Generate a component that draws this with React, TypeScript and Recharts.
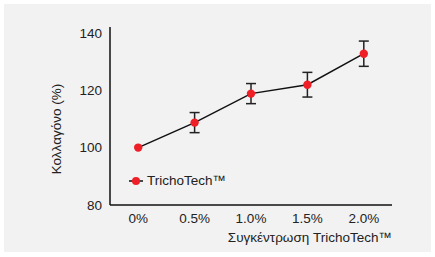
import { ErrorBar, Line, LineChart, XAxis, YAxis } from 'recharts';

const concentrations = ['0%', '0.5%', '1.0%', '1.5%', '2.0%'];
const collagen = [100, 108.7, 118.8, 121.9, 132.7];
const collagenErr = [0, 3.5, 3.5, 4.3, 4.4];
const yTicks = [80, 100, 120, 140];
const seriesName = 'TrichoTech™';

const data = concentrations.map((c, i) => ({ c, value: collagen[i], err: collagenErr[i] }));

const RED = '#ee1f26';
const FONT = '"Liberation Sans", Arial, sans-serif';
const FS = 13.5;

function YLabel({ viewBox }: any) {
  const x = viewBox.x + viewBox.width / 2 - 1;
  const y = viewBox.y + viewBox.height / 2 + 13;
  return (
    <text x={x} y={y} transform={`rotate(-90, ${x}, ${y})`} textAnchor="middle" dominantBaseline="central" fontSize={FS} fill="#222" fontFamily={FONT}>
      Κολλαγόνο (%)
    </text>
  );
}

function XLabel({ viewBox }: any) {
  return (
    <text x={viewBox.x + viewBox.width} y={viewBox.y + 32} textAnchor="end" dominantBaseline="central" fontSize={FS} fill="#222" fontFamily={FONT}>
      Συγκέντρωση TrichoTech™
    </text>
  );
}

export default function App() {
  return (
    <div style={{ position: 'absolute', left: 0, top: 0, width: 435, height: 257, background: '#fff' }}>
      <div style={{ position: 'absolute', left: 4, top: 4, width: 427, height: 248, background: '#f2f2f2' }}>
        <LineChart width={427} height={248} data={data} margin={{ top: 23, right: 39, left: 0, bottom: 17 }}>
          <XAxis
            dataKey="c"
            scale="band"
            tickLine={false}
            axisLine={{ stroke: '#111', strokeWidth: 1.5 }}
            tick={{ fontSize: FS, fill: '#222', fontFamily: FONT }}
            height={30}
            label={<XLabel />}
          />
          <YAxis
            domain={[80, 142]}
            ticks={yTicks}
            width={106}
            tickLine={false}
            axisLine={{ stroke: '#111', strokeWidth: 1.5 }}
            tick={{ fontSize: FS, fill: '#222', fontFamily: FONT }}
            label={<YLabel />}
          />
          <Line
            dataKey="value"
            name={seriesName}
            stroke="#111"
            strokeWidth={1.5}
            dot={{ r: 4.2, fill: RED, stroke: 'none' }}
            activeDot={false}
            isAnimationActive={false}
          >
            <ErrorBar dataKey="err" width={5} stroke="#222" strokeWidth={1.5} direction="y" />
          </Line>
        </LineChart>
        {/* legend sits inside the plot, lower left */}
        <div style={{ position: 'absolute', left: 125, top: 169, display: 'flex', alignItems: 'center', fontFamily: FONT, fontSize: FS, color: '#222' }}>
          <svg width={14} height={10} style={{ marginRight: 4 }}>
            <line x1={0} y1={5} x2={14} y2={5} stroke="#111" strokeWidth={1.5} />
            <circle cx={7} cy={5} r={4} fill={RED} />
          </svg>
          {seriesName}
        </div>
      </div>
    </div>
  );
}
